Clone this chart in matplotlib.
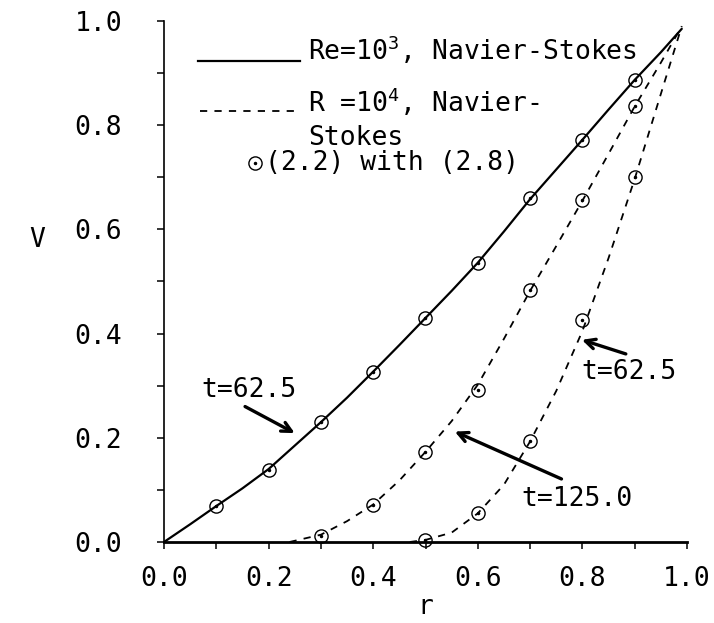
import matplotlib
matplotlib.use("Agg")
import matplotlib.pyplot as plt
from matplotlib.ticker import MultipleLocator

plt.rcParams['font.family'] = ['DejaVu Sans Mono', 'DejaVu Sans']
plt.rcParams['mathtext.fontset'] = 'custom'
plt.rcParams['mathtext.rm'] = 'DejaVu Sans Mono'
plt.rcParams['mathtext.it'] = 'DejaVu Sans Mono'

# ---- data ----
r_solid = [0.0, 0.05, 0.1, 0.15, 0.2, 0.25, 0.3, 0.35, 0.4, 0.45, 0.5,
           0.55, 0.6, 0.65, 0.7, 0.75, 0.8, 0.85, 0.9, 0.95, 0.99]
v_solid = [0.0, 0.034, 0.069, 0.103, 0.14, 0.185, 0.23, 0.277, 0.327, 0.378, 0.43,
           0.482, 0.536, 0.596, 0.658, 0.715, 0.772, 0.83, 0.887, 0.94, 0.985]

r_mid = [0.24, 0.3, 0.35, 0.4, 0.45, 0.5, 0.55, 0.6, 0.65, 0.7, 0.75, 0.8,
         0.85, 0.9, 0.95, 0.99]
v_mid = [0.0, 0.014, 0.04, 0.072, 0.118, 0.173, 0.232, 0.302, 0.39, 0.482,
         0.568, 0.655, 0.745, 0.836, 0.92, 0.99]

r_right = [0.47, 0.5, 0.55, 0.6, 0.65, 0.7, 0.75, 0.8, 0.85, 0.9, 0.95, 0.99]
v_right = [0.0, 0.004, 0.018, 0.055, 0.11, 0.193, 0.29, 0.405, 0.545, 0.697,
           0.86, 0.99]

# approximate solution markers, (2.2) with (2.8)
rm_solid = [0.1, 0.2, 0.3, 0.4, 0.5, 0.6, 0.7, 0.8, 0.9]
vm_solid = [0.069, 0.138, 0.231, 0.327, 0.43, 0.536, 0.66, 0.772, 0.887]
rm_mid = [0.3, 0.4, 0.5, 0.6, 0.7, 0.8, 0.9]
vm_mid = [0.012, 0.071, 0.173, 0.292, 0.484, 0.656, 0.836]
rm_right = [0.5, 0.6, 0.7, 0.8, 0.9]
vm_right = [0.004, 0.055, 0.193, 0.426, 0.70]

xticks = [0.0, 0.2, 0.4, 0.6, 0.8, 1.0]
yticks = [0.0, 0.2, 0.4, 0.6, 0.8, 1.0]

FS = 19
dash = (0, (4, 4))

fig = plt.figure(figsize=(7.14, 6.23), dpi=100)
ax = fig.add_axes([164/714, (623-542)/623, 523/714, 521/623])

ax.plot(r_solid, v_solid, color='black', lw=1.6, solid_capstyle='round')
ax.plot(r_mid, v_mid, color='black', lw=1.3, linestyle=dash)
ax.plot(r_right, v_right, color='black', lw=1.3, linestyle=dash)

for rr, vv in [(rm_solid, vm_solid), (rm_mid, vm_mid), (rm_right, vm_right)]:
    ax.plot(rr, vv, linestyle='none', marker='o', ms=9.5, mfc='none',
            mec='black', mew=1.0, clip_on=False)
    ax.plot(rr, vv, linestyle='none', marker='.', ms=3, color='black',
            clip_on=False)

ax.set_xlim(0, 1)
ax.set_ylim(0, 1)
ax.set_xticks(xticks)
ax.set_yticks(yticks)
ax.set_xticklabels([f"{t:.1f}" for t in xticks])
ax.set_yticklabels([f"{t:.1f}" for t in yticks])
ax.xaxis.set_minor_locator(MultipleLocator(0.1))
ax.yaxis.set_minor_locator(MultipleLocator(0.1))
ax.tick_params(axis='both', which='both', direction='out', length=5, width=1.1,
               labelsize=FS)
ax.tick_params(axis='x', which='major', pad=12)
ax.tick_params(axis='y', which='major', pad=25)
ax.spines['top'].set_visible(False)
ax.spines['right'].set_visible(False)
ax.spines['bottom'].set_linewidth(2.0)
ax.spines['left'].set_linewidth(1.2)

ax.set_xlabel('r', fontsize=FS)
ax.xaxis.set_label_coords(0.5, -0.10)
ax.set_ylabel('V', fontsize=FS, rotation=0, va='center', ha='center')
ax.yaxis.set_label_coords(-0.242, 0.58)

# legend drawn by hand
T = ax.transAxes
ax.plot([0.065, 0.26], [0.924, 0.924], transform=T, color='black', lw=1.6)
ax.text(0.275, 0.926, r'Re=10$^{3}$, Navier-Stokes', transform=T,
        fontsize=FS, va='baseline', ha='left')
ax.plot([0.069, 0.26], [0.827, 0.827], transform=T, color='black', lw=1.3,
        linestyle=dash)
ax.text(0.275, 0.826, r'R =10$^{4}$, Navier-', transform=T,
        fontsize=FS, va='baseline', ha='left')
ax.text(0.275, 0.762, 'Stokes', transform=T, fontsize=FS, va='baseline',
        ha='left')
ax.plot([0.174], [0.727], transform=T, marker='o', ms=9.5, mfc='none',
        mec='black', mew=1.0, linestyle='none')
ax.plot([0.174], [0.727], transform=T, marker='.', ms=3, color='black',
        linestyle='none')
ax.text(0.193, 0.714, '(2.2) with (2.8)', transform=T, fontsize=FS,
        va='baseline', ha='left')

# annotations
arrow = dict(arrowstyle='->,head_length=0.7,head_width=0.35', lw=2.4,
             color='black', shrinkA=0, shrinkB=0)
ax.text(0.163, 0.292, 't=62.5', fontsize=FS, ha='center', va='center')
ax.annotate('', xy=(0.25, 0.209), xytext=(0.155, 0.26), arrowprops=arrow)

ax.text(0.889, 0.326, 't=62.5', fontsize=FS, ha='center', va='center')
ax.annotate('', xy=(0.799, 0.388), xytext=(0.883, 0.361), arrowprops=arrow)

ax.text(0.79, 0.083, 't=125.0', fontsize=FS, ha='center', va='center')
ax.annotate('', xy=(0.556, 0.212), xytext=(0.760, 0.121), arrowprops=arrow)

fig.savefig('out.png', dpi=100)
